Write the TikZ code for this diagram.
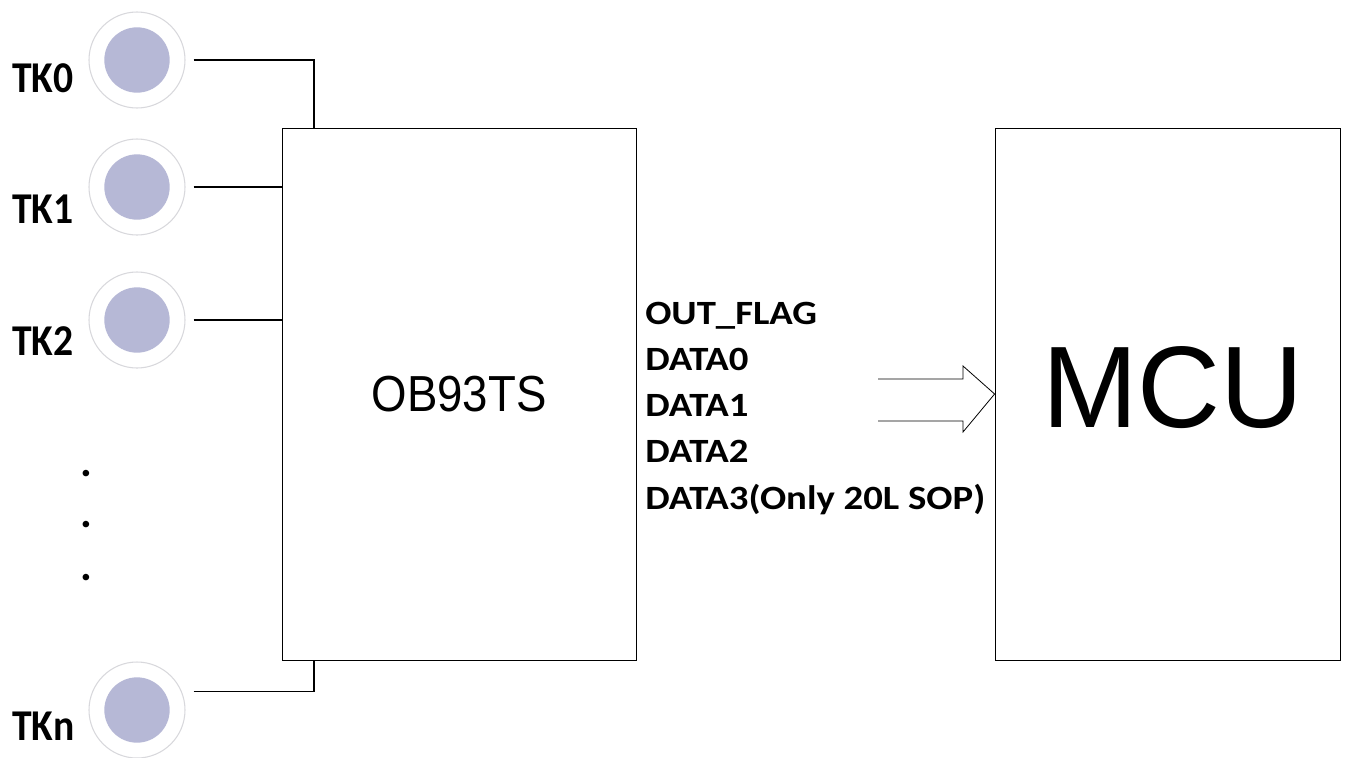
\documentclass[tikz,border=0pt]{standalone}
\usepackage{fontspec}
\usepackage{graphicx}
\setmainfont{Carlito}
\newfontfamily\arialfont{Liberation Sans}
\usetikzlibrary{positioning}

\definecolor{padfill}{RGB}{182,184,214}
\definecolor{padring}{RGB}{216,216,220}

\newcommand{\widetext}[1]{\scalebox{1.14}[1]{#1}}
\newcommand{\narrowtext}[1]{\scalebox{0.9}[1]{#1}}

\tikzset{
  pad/.style={circle, draw=padring, line width=0.8pt, fill=white,
              minimum size=72pt, inner sep=0pt,
              path picture={\fill[padfill] (path picture bounding box.center) circle[radius=24.5pt];}},
  padlabel/.style={anchor=base west, inner sep=0pt, font=\fontsize{33}{38}\selectfont\bfseries},
  sig/.style={anchor=base west, inner sep=0pt, font=\fontsize{25.5}{30}\selectfont\bfseries},
  chip/.style={draw, line width=0.6pt, minimum width=265.5pt, minimum height=399pt, inner sep=0pt},
  wire/.style={line width=0.9pt}
}

\begin{document}
\begin{tikzpicture}[x=0.75pt,y=-0.75pt]
\useasboundingbox (0,0) rectangle (1356,757);

% blocks
\node[chip] (ob)  at (459,394)  {};
\node[chip, minimum width=258.75pt] (mcu) at (1167.5,394) {};
\node[font=\arialfont\fontsize{38}{42}\selectfont] (obtext) at (ob) {\narrowtext{OB93TS}};
\node[font=\arialfont\fontsize{87}{90}\selectfont, xshift=4pt, yshift=5pt] (mcutext) at (mcu)
  {\scalebox{0.99}[1]{MCU}};

% touch pads
\node[pad] (tk0) at (137,60)  {};
\node[pad] (tk1) at (137,187) {};
\node[pad] (tk2) at (137,320) {};
\node[pad] (tkn) at (137,710) {};
\node[padlabel] (l0) at (12,92)  {\narrowtext{TK0}};
\node[padlabel] (l1) at (12,223) {\narrowtext{TK1}};
\node[padlabel] (l2) at (12,355) {\narrowtext{TK2}};
\node[padlabel] (ln) at (12,740) {\narrowtext{TKn}};
\foreach \y [count=\i] in {476,527,580}
  \node[padlabel, anchor=base] (dot\i) at (86,\y) {.};

% wiring
\coordinate (j0) at (314,128);
\coordinate (jn) at (314,660);
\draw[wire] ([xshift=6pt]tk0.east) -| (j0);
\draw[wire] ([xshift=6pt]tk1.east) -- (tk1 -| ob.west);
\draw[wire] ([xshift=6pt]tk2.east) -- (tk2 -| ob.west);
\draw[wire] ([shift={(6pt,14pt)}]tkn.east) -| (jn);

% output signals
\foreach \s [count=\i from 0] in {OUT\_FLAG,DATA0,DATA1,DATA2,{DATA3(Only 20L SOP)}}
  \node[sig] (s\i) at (645,{324+46.3*\i}) {\widetext{\s}};

% bus arrow
\coordinate (tip) at (mcu.west);
\draw[line width=0.6pt, line join=miter]
  (878,379) -- (963,379) -- (963,366) -- (tip) -- (963,432) -- (963,421) -- (878,421);
\end{tikzpicture}
\end{document}
